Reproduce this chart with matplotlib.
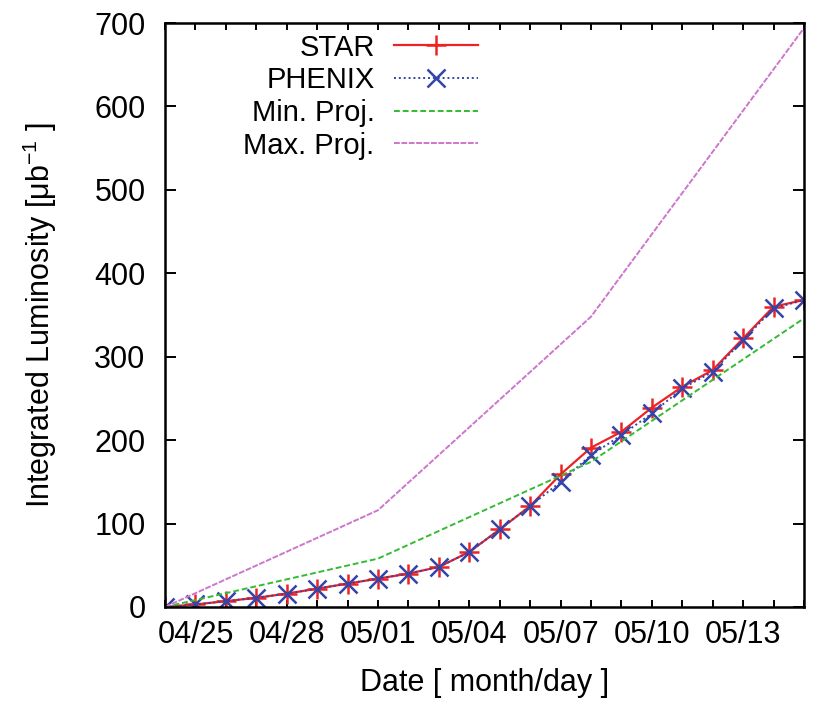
import numpy as np
import matplotlib
matplotlib.use('Agg')
from matplotlib import pyplot as plt

plt.rcParams['font.family'] = ['Liberation Sans', 'DejaVu Sans']
plt.rcParams['mathtext.fontset'] = 'custom'
plt.rcParams['mathtext.rm'] = 'Liberation Sans'
plt.rcParams['mathtext.it'] = 'Liberation Sans:italic'

########## DATA ##########

# one entry per day, 04/24 .. 05/15
dates = ['04/24', '04/25', '04/26', '04/27', '04/28', '04/29', '04/30',
         '05/01', '05/02', '05/03', '05/04', '05/05', '05/06', '05/07',
         '05/08', '05/09', '05/10', '05/11', '05/12', '05/13', '05/14', '05/15']

star = [0, 3, 7, 11, 16, 22, 28, 34, 40, 48, 66, 93, 121, 159,
        191, 210, 239, 264, 284, 322, 360, 368]
phenix = [0, 3, 7, 11, 16, 22, 28, 34, 40, 48, 66, 93, 121, 150,
          182, 206, 232, 262, 282, 320, 358, 368]

# projections are given at a few dates only
proj_dates = ['04/24', '05/01', '05/08', '05/15']
min_proj = [0, 58, 174, 346]
max_proj = [0, 116, 348, 694]

labeled_dates = ['04/25', '04/28', '05/01', '05/04', '05/07', '05/10', '05/13']

########## PLOT ##########

day = np.arange(len(dates))
proj_day = [dates.index(d) for d in proj_dates]
tick_day = [dates.index(d) for d in labeled_dates]

fig = plt.figure(figsize=(8.23, 7.04), dpi=100)
ax = fig.add_axes([0.2005, 0.1378, 0.7764, 0.8295])

ax.plot(day, star, color='#ee2222', lw=1.6, marker='+', ms=15, mew=1.8,
        label='STAR')
ax.plot(day, phenix, color='#3344aa', lw=1.4, ls=(0, (1, 1.5)), marker='x',
        ms=13, mew=1.8, label='PHENIX')
ax.plot(proj_day, min_proj, color='#33bb33', lw=1.4, ls=(0, (3, 1.5)),
        label='Min. Proj.')
ax.plot(proj_day, max_proj, color='#cc77cc', lw=1.4, ls=(0, (3, 0.8)),
        label='Max. Proj.')

ax.set_xlim(0, len(dates) - 1)
ax.set_ylim(0, 700)
ax.set_xticks(tick_day)
ax.set_xticklabels(labeled_dates)
ax.set_xticks(day, minor=True)
ax.set_yticks(np.arange(0, 701, 100))

ax.tick_params(axis='x', which='both', direction='in', top=True, length=5,
               width=1.4, labelsize=22, pad=9.5)
ax.tick_params(axis='y', which='both', direction='in', right=True, length=8,
               width=1.4, labelsize=22, pad=14)
for s in ax.spines.values():
    s.set_linewidth(1.8)

ax.set_xlabel('Date [ month/day ]', fontsize=22, va='center')
ax.xaxis.set_label_coords(0.5, -0.13)
ax.set_ylabel('Integrated Luminosity [μb$^{\\mathregular{-1}}$ ]', fontsize=22,
              va='center')
ax.yaxis.set_label_coords(-0.196, 0.5)

leg = ax.legend(loc='upper right', bbox_to_anchor=(0.49, 0.982), frameon=False,
                markerfirst=False, fontsize=21, handlelength=2.9,
                handletextpad=0.65, labelspacing=0.16, borderpad=0,
                borderaxespad=0)

plt.savefig('out.png', dpi=100)
